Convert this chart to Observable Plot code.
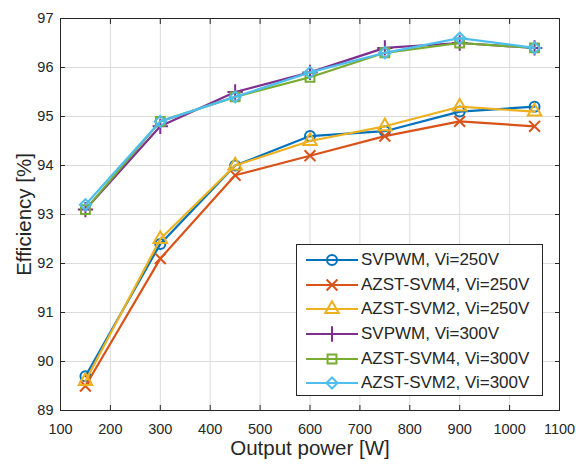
<!DOCTYPE html>
<html>
<head>
<meta charset="utf-8">
<script src="https://cdn.jsdelivr.net/npm/d3@7"></script>
<script src="https://cdn.jsdelivr.net/npm/@observablehq/plot@0.6"></script>
<style>
  body { margin: 0; background: #fff; }
  #wrap { position: relative; width: 576px; height: 464px; font-family: "Liberation Sans", Arial, sans-serif; }
  #wrap svg text { fill: #262626; }
  #wrap svg [aria-label$="axis label"] text { font-size: 20.5px; }
  #legend { position: absolute; left: 296px; top: 244px; width: 247px; height: 152px; border: 1px solid #262626; background: #fff; box-sizing: border-box; padding-top: 3px; }
  .row { height: 24.6px; display: flex; align-items: center; font-size: 17px; color: #262626; white-space: nowrap; }
  .row svg { margin-left: 9px; margin-right: 3px; }
</style>
</head>
<body>
<div id="wrap"></div>
<script>
const power = [150, 300, 450, 600, 750, 900, 1050];
const svpwm250 = [89.7, 92.4, 94.0, 94.6, 94.7, 95.1, 95.2];
const azst4_250 = [89.5, 92.1, 93.8, 94.2, 94.6, 94.9, 94.8];
const azst2_250 = [89.6, 92.5, 94.0, 94.5, 94.8, 95.2, 95.1];
const svpwm300 = [93.1, 94.8, 95.5, 95.9, 96.4, 96.5, 96.4];
const azst4_300 = [93.1, 94.9, 95.4, 95.8, 96.3, 96.5, 96.4];
const azst2_300 = [93.2, 94.9, 95.4, 95.9, 96.3, 96.6, 96.4];
const seriesNames = ["SVPWM, Vi=250V", "AZST-SVM4, Vi=250V", "AZST-SVM2, Vi=250V", "SVPWM, Vi=300V", "AZST-SVM4, Vi=300V", "AZST-SVM2, Vi=300V"];
const seriesValues = [svpwm250, azst4_250, azst2_250, svpwm300, azst4_300, azst2_300];
const colors = ["#0072BD", "#D95319", "#EDB120", "#7E2F8E", "#77AC30", "#4DBEEE"];
const symbols = ["circle", "times", "triangle", "plus", "square", "diamond2"];
const d3Symbols = [d3.symbolCircle, d3.symbolTimes, d3.symbolTriangle, d3.symbolPlus, d3.symbolSquare, d3.symbolDiamond2];
const xTicks = [100, 200, 300, 400, 500, 600, 700, 800, 900, 1000, 1100];
const yTicks = [89, 90, 91, 92, 93, 94, 95, 96, 97];

const data = [];
seriesNames.forEach((name, i) => {
  power.forEach((p, j) => data.push({series: name, idx: i, x: p, y: seriesValues[i][j]}));
});

const marks = [
  Plot.gridX(xTicks, {stroke: "#dcdcdc", strokeOpacity: 1}),
  Plot.gridY(yTicks, {stroke: "#dcdcdc", strokeOpacity: 1}),
  Plot.axisX(xTicks, {anchor: "bottom", tickSize: -5, tickPadding: 18, fontSize: 14.5, tickFormat: d => String(d), stroke: "#262626", label: "Output power [W]", labelAnchor: "center", labelOffset: 44, labelArrow: "none"}),
  Plot.axisX(xTicks, {anchor: "top", tickSize: -5, tickFormat: () => "", label: null, stroke: "#262626"}),
  Plot.axisY(yTicks, {anchor: "left", tickSize: -5, tickPadding: 12, fontSize: 14.5, tickFormat: d => String(d), stroke: "#262626", label: "Efficiency [%]", labelAnchor: "center", labelOffset: 44, labelArrow: "none"}),
  Plot.axisY(yTicks, {anchor: "right", tickSize: -5, tickFormat: () => "", label: null, stroke: "#262626"}),
  Plot.frame({stroke: "#262626", strokeWidth: 1})
];
seriesNames.forEach((name, i) => {
  const d = data.filter(e => e.idx === i);
  marks.push(Plot.line(d, {x: "x", y: "y", stroke: colors[i], strokeWidth: 2.2}));
  marks.push(Plot.dot(d, {x: "x", y: "y", symbol: () => symbols[i], stroke: colors[i], fill: "none", strokeWidth: 2, r: 5}));
});

const chart = Plot.plot({
  width: 576,
  height: 464,
  marginLeft: 60,
  marginRight: 17,
  marginTop: 18,
  marginBottom: 54,
  style: {fontFamily: "Liberation Sans, Arial, sans-serif", fontSize: "14px", color: "#262626", background: "#fff"},
  x: {domain: [100, 1100]},
  y: {domain: [89, 97]},
  symbol: {type: "identity"},
  marks
});
const wrap = document.getElementById("wrap");
wrap.appendChild(chart);

const legend = document.createElement("div");
legend.id = "legend";
seriesNames.forEach((name, i) => {
  const row = document.createElement("div");
  row.className = "row";
  const svg = d3.create("svg").attr("width", 52).attr("height", 20);
  svg.append("line").attr("x1", 0).attr("x2", 52).attr("y1", 10).attr("y2", 10).attr("stroke", colors[i]).attr("stroke-width", 2.2);
  svg.append("path").attr("d", d3.symbol(d3Symbols[i], 25 * Math.PI)()).attr("transform", "translate(26,10)").attr("fill", "none").attr("stroke", colors[i]).attr("stroke-width", 2);
  row.appendChild(svg.node());
  const t = document.createElement("span");
  t.textContent = name;
  row.appendChild(t);
  legend.appendChild(row);
});
wrap.appendChild(legend);
</script>
</body>
</html>
